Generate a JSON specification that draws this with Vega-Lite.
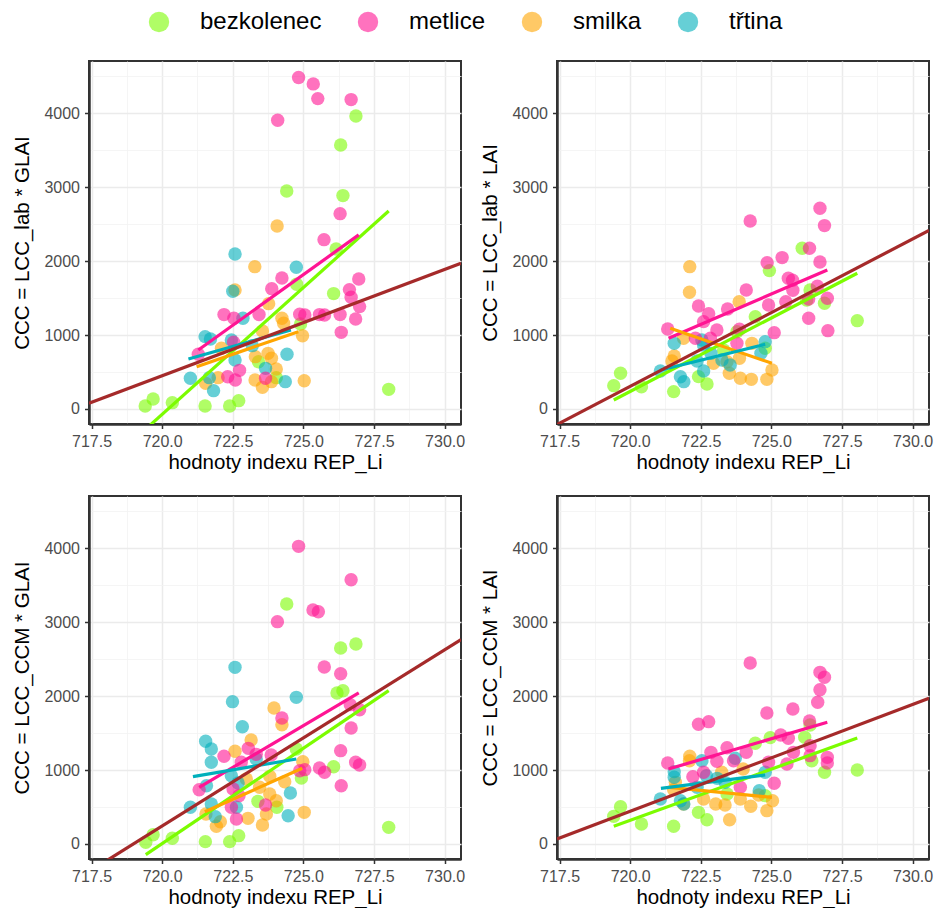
{
  "$schema": "https://vega.github.io/schema/vega-lite/v6.json",
  "padding": {"left": 11, "top": 10, "right": 5, "bottom": 5},
  "background": "white",
  "datasets": {
    "points": [
      {"panel":1,"druh":"bezkolenec","rep":726.86,"ccc":3965},{"panel":1,"druh":"bezkolenec","rep":726.32,"ccc":3572},{"panel":1,"druh":"bezkolenec","rep":724.41,"ccc":2950},{"panel":1,"druh":"bezkolenec","rep":726.40,"ccc":2887},{"panel":1,"druh":"bezkolenec","rep":726.16,"ccc":2165},{"panel":1,"druh":"bezkolenec","rep":724.76,"ccc":1687},{"panel":1,"druh":"bezkolenec","rep":726.07,"ccc":1561},{"panel":1,"druh":"bezkolenec","rep":728.02,"ccc":266},{"panel":1,"druh":"bezkolenec","rep":719.40,"ccc":41},{"panel":1,"druh":"bezkolenec","rep":719.68,"ccc":135},{"panel":1,"druh":"bezkolenec","rep":720.36,"ccc":86},{"panel":1,"druh":"bezkolenec","rep":721.52,"ccc":41},{"panel":1,"druh":"bezkolenec","rep":722.39,"ccc":41},{"panel":1,"druh":"bezkolenec","rep":722.71,"ccc":113},{"panel":1,"druh":"bezkolenec","rep":723.41,"ccc":640},{"panel":1,"druh":"bezkolenec","rep":724.04,"ccc":424},{"panel":1,"druh":"bezkolenec","rep":724.90,"ccc":1150},
      {"panel":1,"druh":"smilka","rep":724.07,"ccc":2476},{"panel":1,"druh":"smilka","rep":723.28,"ccc":1926},{"panel":1,"druh":"smilka","rep":722.58,"ccc":1610},{"panel":1,"druh":"smilka","rep":723.77,"ccc":1425},{"panel":1,"druh":"smilka","rep":724.24,"ccc":1227},{"panel":1,"druh":"smilka","rep":724.30,"ccc":1159},{"panel":1,"druh":"smilka","rep":724.97,"ccc":992},{"panel":1,"druh":"smilka","rep":723.55,"ccc":1055},{"panel":1,"druh":"smilka","rep":722.10,"ccc":821},{"panel":1,"druh":"smilka","rep":723.75,"ccc":753},{"panel":1,"druh":"smilka","rep":723.87,"ccc":686},{"panel":1,"druh":"smilka","rep":724.04,"ccc":541},{"panel":1,"druh":"smilka","rep":723.29,"ccc":392},{"panel":1,"druh":"smilka","rep":723.55,"ccc":293},{"panel":1,"druh":"smilka","rep":725.03,"ccc":383},{"panel":1,"druh":"smilka","rep":721.54,"ccc":347},{"panel":1,"druh":"smilka","rep":721.98,"ccc":424},{"panel":1,"druh":"smilka","rep":723.87,"ccc":370},{"panel":1,"druh":"smilka","rep":723.30,"ccc":708},
      {"panel":1,"druh":"třtina","rep":722.58,"ccc":2097},{"panel":1,"druh":"třtina","rep":724.75,"ccc":1917},{"panel":1,"druh":"třtina","rep":722.50,"ccc":1592},{"panel":1,"druh":"třtina","rep":722.86,"ccc":1227},{"panel":1,"druh":"třtina","rep":721.52,"ccc":979},{"panel":1,"druh":"třtina","rep":721.71,"ccc":947},{"panel":1,"druh":"třtina","rep":722.45,"ccc":934},{"panel":1,"druh":"třtina","rep":721.00,"ccc":415},{"panel":1,"druh":"třtina","rep":721.67,"ccc":424},{"panel":1,"druh":"třtina","rep":721.82,"ccc":248},{"panel":1,"druh":"třtina","rep":724.42,"ccc":740},{"panel":1,"druh":"třtina","rep":724.36,"ccc":370},{"panel":1,"druh":"třtina","rep":722.58,"ccc":663},{"panel":1,"druh":"třtina","rep":723.19,"ccc":857},{"panel":1,"druh":"třtina","rep":723.66,"ccc":550},
      {"panel":1,"druh":"metlice","rep":724.83,"ccc":4484},{"panel":1,"druh":"metlice","rep":725.35,"ccc":4398},{"panel":1,"druh":"metlice","rep":725.51,"ccc":4199},{"panel":1,"druh":"metlice","rep":726.69,"ccc":4186},{"panel":1,"druh":"metlice","rep":724.09,"ccc":3906},{"panel":1,"druh":"metlice","rep":726.30,"ccc":2643},{"panel":1,"druh":"metlice","rep":725.73,"ccc":2291},{"panel":1,"druh":"metlice","rep":724.24,"ccc":1773},{"panel":1,"druh":"metlice","rep":726.96,"ccc":1759},{"panel":1,"druh":"metlice","rep":723.88,"ccc":1628},{"panel":1,"druh":"metlice","rep":726.63,"ccc":1615},{"panel":1,"druh":"metlice","rep":726.69,"ccc":1511},{"panel":1,"druh":"metlice","rep":726.99,"ccc":1385},{"panel":1,"druh":"metlice","rep":722.19,"ccc":1277},{"panel":1,"druh":"metlice","rep":722.54,"ccc":1227},{"panel":1,"druh":"metlice","rep":723.43,"ccc":1277},{"panel":1,"druh":"metlice","rep":724.87,"ccc":1281},{"panel":1,"druh":"metlice","rep":725.05,"ccc":1272},{"panel":1,"druh":"metlice","rep":725.57,"ccc":1277},{"panel":1,"druh":"metlice","rep":725.75,"ccc":1272},{"panel":1,"druh":"metlice","rep":726.30,"ccc":1277},{"panel":1,"druh":"metlice","rep":726.85,"ccc":1218},{"panel":1,"druh":"metlice","rep":726.34,"ccc":1037},{"panel":1,"druh":"metlice","rep":721.28,"ccc":740},{"panel":1,"druh":"metlice","rep":722.53,"ccc":902},{"panel":1,"druh":"metlice","rep":722.74,"ccc":523},{"panel":1,"druh":"metlice","rep":722.32,"ccc":437},{"panel":1,"druh":"metlice","rep":722.59,"ccc":392},{"panel":1,"druh":"metlice","rep":723.66,"ccc":415},

      {"panel":2,"druh":"bezkolenec","rep":726.09,"ccc":2174},{"panel":2,"druh":"bezkolenec","rep":724.93,"ccc":1872},{"panel":2,"druh":"bezkolenec","rep":726.88,"ccc":1430},{"panel":2,"druh":"bezkolenec","rep":726.25,"ccc":1475},{"panel":2,"druh":"bezkolenec","rep":726.37,"ccc":1610},{"panel":2,"druh":"bezkolenec","rep":728.04,"ccc":1195},{"panel":2,"druh":"bezkolenec","rep":724.43,"ccc":1249},{"panel":2,"druh":"bezkolenec","rep":724.78,"ccc":821},{"panel":2,"druh":"bezkolenec","rep":723.78,"ccc":1046},{"panel":2,"druh":"bezkolenec","rep":719.66,"ccc":483},{"panel":2,"druh":"bezkolenec","rep":719.42,"ccc":316},{"panel":2,"druh":"bezkolenec","rep":720.40,"ccc":302},{"panel":2,"druh":"bezkolenec","rep":721.54,"ccc":235},{"panel":2,"druh":"bezkolenec","rep":722.42,"ccc":438},{"panel":2,"druh":"bezkolenec","rep":722.72,"ccc":338},{"panel":2,"druh":"bezkolenec","rep":723.31,"ccc":798},
      {"panel":2,"druh":"smilka","rep":722.11,"ccc":1926},{"panel":2,"druh":"smilka","rep":722.10,"ccc":1579},{"panel":2,"druh":"smilka","rep":723.86,"ccc":1452},{"panel":2,"druh":"smilka","rep":721.89,"ccc":956},{"panel":2,"druh":"smilka","rep":721.56,"ccc":717},{"panel":2,"druh":"smilka","rep":721.48,"ccc":650},{"panel":2,"druh":"smilka","rep":722.95,"ccc":618},{"panel":2,"druh":"smilka","rep":723.87,"ccc":686},{"panel":2,"druh":"smilka","rep":724.31,"ccc":888},{"panel":2,"druh":"smilka","rep":723.51,"ccc":483},{"panel":2,"druh":"smilka","rep":723.90,"ccc":415},{"panel":2,"druh":"smilka","rep":724.29,"ccc":401},{"panel":2,"druh":"smilka","rep":724.84,"ccc":401},{"panel":2,"druh":"smilka","rep":725.02,"ccc":528},{"panel":2,"druh":"smilka","rep":723.43,"ccc":640},
      {"panel":2,"druh":"třtina","rep":721.56,"ccc":888},{"panel":2,"druh":"třtina","rep":722.54,"ccc":934},{"panel":2,"druh":"třtina","rep":722.60,"ccc":866},{"panel":2,"druh":"třtina","rep":721.07,"ccc":514},{"panel":2,"druh":"třtina","rep":721.78,"ccc":437},{"panel":2,"druh":"třtina","rep":721.90,"ccc":370},{"panel":2,"druh":"třtina","rep":722.37,"ccc":650},{"panel":2,"druh":"třtina","rep":722.60,"ccc":514},{"panel":2,"druh":"třtina","rep":723.25,"ccc":663},{"panel":2,"druh":"třtina","rep":723.54,"ccc":595},{"panel":2,"druh":"třtina","rep":724.63,"ccc":753},{"panel":2,"druh":"třtina","rep":724.78,"ccc":911},{"panel":2,"druh":"třtina","rep":722.86,"ccc":753},
      {"panel":2,"druh":"metlice","rep":726.72,"ccc":2715},{"panel":2,"druh":"metlice","rep":726.88,"ccc":2481},{"panel":2,"druh":"metlice","rep":724.25,"ccc":2544},{"panel":2,"druh":"metlice","rep":726.35,"ccc":2174},{"panel":2,"druh":"metlice","rep":725.38,"ccc":2048},{"panel":2,"druh":"metlice","rep":726.72,"ccc":1989},{"panel":2,"druh":"metlice","rep":724.85,"ccc":1980},{"panel":2,"druh":"metlice","rep":725.60,"ccc":1768},{"panel":2,"druh":"metlice","rep":725.75,"ccc":1741},{"panel":2,"druh":"metlice","rep":725.76,"ccc":1606},{"panel":2,"druh":"metlice","rep":724.11,"ccc":1610},{"panel":2,"druh":"metlice","rep":726.63,"ccc":1660},{"panel":2,"druh":"metlice","rep":726.98,"ccc":1498},{"panel":2,"druh":"metlice","rep":726.32,"ccc":1489},{"panel":2,"druh":"metlice","rep":725.51,"ccc":1452},{"panel":2,"druh":"metlice","rep":724.90,"ccc":1407},{"panel":2,"druh":"metlice","rep":723.45,"ccc":1353},{"panel":2,"druh":"metlice","rep":722.42,"ccc":1394},{"panel":2,"druh":"metlice","rep":722.78,"ccc":1290},{"panel":2,"druh":"metlice","rep":722.60,"ccc":1182},{"panel":2,"druh":"metlice","rep":723.07,"ccc":1069},{"panel":2,"druh":"metlice","rep":721.33,"ccc":1083},{"panel":2,"druh":"metlice","rep":723.87,"ccc":1078},{"panel":2,"druh":"metlice","rep":725.10,"ccc":1033},{"panel":2,"druh":"metlice","rep":726.32,"ccc":1227},{"panel":2,"druh":"metlice","rep":727.00,"ccc":1060},{"panel":2,"druh":"metlice","rep":722.84,"ccc":956},{"panel":2,"druh":"metlice","rep":722.31,"ccc":956},{"panel":2,"druh":"metlice","rep":723.78,"ccc":888},

      {"panel":3,"druh":"bezkolenec","rep":724.41,"ccc":3247},{"panel":3,"druh":"bezkolenec","rep":726.86,"ccc":2706},{"panel":3,"druh":"bezkolenec","rep":726.32,"ccc":2652},{"panel":3,"druh":"bezkolenec","rep":726.19,"ccc":2043},{"panel":3,"druh":"bezkolenec","rep":726.40,"ccc":2074},{"panel":3,"druh":"bezkolenec","rep":724.75,"ccc":1285},{"panel":3,"druh":"bezkolenec","rep":726.07,"ccc":1046},{"panel":3,"druh":"bezkolenec","rep":724.93,"ccc":893},{"panel":3,"druh":"bezkolenec","rep":728.02,"ccc":225},{"panel":3,"druh":"bezkolenec","rep":719.42,"ccc":23},{"panel":3,"druh":"bezkolenec","rep":719.68,"ccc":126},{"panel":3,"druh":"bezkolenec","rep":720.36,"ccc":77},{"panel":3,"druh":"bezkolenec","rep":721.53,"ccc":32},{"panel":3,"druh":"bezkolenec","rep":722.39,"ccc":32},{"panel":3,"druh":"bezkolenec","rep":722.71,"ccc":113},{"panel":3,"druh":"bezkolenec","rep":723.39,"ccc":577},{"panel":3,"druh":"bezkolenec","rep":724.06,"ccc":496},
      {"panel":3,"druh":"smilka","rep":723.96,"ccc":1840},{"panel":3,"druh":"smilka","rep":724.24,"ccc":1614},{"panel":3,"druh":"smilka","rep":723.15,"ccc":1407},{"panel":3,"druh":"smilka","rep":722.58,"ccc":1254},{"panel":3,"druh":"smilka","rep":724.98,"ccc":1114},{"panel":3,"druh":"smilka","rep":723.81,"ccc":915},{"panel":3,"druh":"smilka","rep":724.34,"ccc":843},{"panel":3,"druh":"smilka","rep":724.04,"ccc":586},{"panel":3,"druh":"smilka","rep":723.69,"ccc":406},{"panel":3,"druh":"smilka","rep":723.04,"ccc":347},{"panel":3,"druh":"smilka","rep":723.55,"ccc":257},{"panel":3,"druh":"smilka","rep":721.92,"ccc":239},{"panel":3,"druh":"smilka","rep":722.06,"ccc":302},{"panel":3,"druh":"smilka","rep":725.03,"ccc":428},{"panel":3,"druh":"smilka","rep":721.55,"ccc":406},{"panel":3,"druh":"smilka","rep":723.45,"ccc":767},{"panel":3,"druh":"smilka","rep":723.81,"ccc":676},{"panel":3,"druh":"smilka","rep":722.98,"ccc":879},
      {"panel":3,"druh":"třtina","rep":722.58,"ccc":2390},{"panel":3,"druh":"třtina","rep":722.49,"ccc":1926},{"panel":3,"druh":"třtina","rep":724.75,"ccc":1984},{"panel":3,"druh":"třtina","rep":722.84,"ccc":1587},{"panel":3,"druh":"třtina","rep":721.54,"ccc":1389},{"panel":3,"druh":"třtina","rep":721.74,"ccc":1285},{"panel":3,"druh":"třtina","rep":721.74,"ccc":1105},{"panel":3,"druh":"třtina","rep":721.57,"ccc":789},{"panel":3,"druh":"třtina","rep":721.00,"ccc":496},{"panel":3,"druh":"třtina","rep":721.74,"ccc":541},{"panel":3,"druh":"třtina","rep":721.88,"ccc":370},{"panel":3,"druh":"třtina","rep":722.45,"ccc":924},{"panel":3,"druh":"třtina","rep":722.69,"ccc":825},{"panel":3,"druh":"třtina","rep":723.33,"ccc":1150},{"panel":3,"druh":"třtina","rep":724.54,"ccc":690},{"panel":3,"druh":"třtina","rep":724.46,"ccc":383},{"panel":3,"druh":"třtina","rep":722.63,"ccc":496},
      {"panel":3,"druh":"metlice","rep":724.83,"ccc":4027},{"panel":3,"druh":"metlice","rep":726.69,"ccc":3576},{"panel":3,"druh":"metlice","rep":725.34,"ccc":3166},{"panel":3,"druh":"metlice","rep":725.53,"ccc":3143},{"panel":3,"druh":"metlice","rep":724.08,"ccc":3008},{"panel":3,"druh":"metlice","rep":725.74,"ccc":2395},{"panel":3,"druh":"metlice","rep":726.32,"ccc":2304},{"panel":3,"druh":"metlice","rep":724.24,"ccc":1705},{"panel":3,"druh":"metlice","rep":726.66,"ccc":1885},{"panel":3,"druh":"metlice","rep":726.99,"ccc":1817},{"panel":3,"druh":"metlice","rep":726.69,"ccc":1569},{"panel":3,"druh":"metlice","rep":723.05,"ccc":1294},{"panel":3,"druh":"metlice","rep":723.33,"ccc":1213},{"panel":3,"druh":"metlice","rep":723.86,"ccc":1204},{"panel":3,"druh":"metlice","rep":722.19,"ccc":1186},{"panel":3,"druh":"metlice","rep":722.80,"ccc":1105},{"panel":3,"druh":"metlice","rep":726.32,"ccc":1263},{"panel":3,"druh":"metlice","rep":725.05,"ccc":1006},{"panel":3,"druh":"metlice","rep":725.57,"ccc":1028},{"panel":3,"druh":"metlice","rep":725.75,"ccc":970},{"panel":3,"druh":"metlice","rep":726.85,"ccc":1105},{"panel":3,"druh":"metlice","rep":726.99,"ccc":1069},{"panel":3,"druh":"metlice","rep":726.34,"ccc":789},{"panel":3,"druh":"metlice","rep":721.31,"ccc":735},{"panel":3,"druh":"metlice","rep":722.51,"ccc":744},{"panel":3,"druh":"metlice","rep":722.72,"ccc":654},{"panel":3,"druh":"metlice","rep":722.45,"ccc":496},{"panel":3,"druh":"metlice","rep":722.63,"ccc":338},{"panel":3,"druh":"metlice","rep":723.66,"ccc":528},{"panel":3,"druh":"metlice","rep":724.87,"ccc":992},

      {"panel":4,"druh":"bezkolenec","rep":724.96,"ccc":1439},{"panel":4,"druh":"bezkolenec","rep":724.43,"ccc":1362},{"panel":4,"druh":"bezkolenec","rep":726.18,"ccc":1443},{"panel":4,"druh":"bezkolenec","rep":726.37,"ccc":1610},{"panel":4,"druh":"bezkolenec","rep":726.43,"ccc":1127},{"panel":4,"druh":"bezkolenec","rep":726.88,"ccc":970},{"panel":4,"druh":"bezkolenec","rep":728.04,"ccc":1001},{"panel":4,"druh":"bezkolenec","rep":719.66,"ccc":505},{"panel":4,"druh":"bezkolenec","rep":719.42,"ccc":374},{"panel":4,"druh":"bezkolenec","rep":720.40,"ccc":271},{"panel":4,"druh":"bezkolenec","rep":721.54,"ccc":239},{"panel":4,"druh":"bezkolenec","rep":722.42,"ccc":428},{"panel":4,"druh":"bezkolenec","rep":722.72,"ccc":329},{"panel":4,"druh":"bezkolenec","rep":723.43,"ccc":676},{"panel":4,"druh":"bezkolenec","rep":724.78,"ccc":654},
      {"panel":4,"druh":"smilka","rep":722.11,"ccc":1186},{"panel":4,"druh":"smilka","rep":722.10,"ccc":1127},{"panel":4,"druh":"smilka","rep":721.60,"ccc":834},{"panel":4,"druh":"smilka","rep":721.54,"ccc":735},{"panel":4,"druh":"smilka","rep":722.60,"ccc":609},{"panel":4,"druh":"smilka","rep":723.03,"ccc":541},{"panel":4,"druh":"smilka","rep":723.36,"ccc":528},{"panel":4,"druh":"smilka","rep":723.52,"ccc":329},{"panel":4,"druh":"smilka","rep":723.90,"ccc":609},{"panel":4,"druh":"smilka","rep":724.27,"ccc":510},{"panel":4,"druh":"smilka","rep":724.84,"ccc":451},{"panel":4,"druh":"smilka","rep":725.04,"ccc":586},{"panel":4,"druh":"smilka","rep":724.55,"ccc":663},{"panel":4,"druh":"smilka","rep":723.24,"ccc":970},{"panel":4,"druh":"smilka","rep":724.00,"ccc":1015},{"panel":4,"druh":"smilka","rep":721.89,"ccc":541},
      {"panel":4,"druh":"třtina","rep":721.56,"ccc":979},{"panel":4,"druh":"třtina","rep":721.56,"ccc":902},{"panel":4,"druh":"třtina","rep":722.54,"ccc":1127},{"panel":4,"druh":"třtina","rep":723.72,"ccc":1159},{"panel":4,"druh":"třtina","rep":721.07,"ccc":609},{"panel":4,"druh":"třtina","rep":721.78,"ccc":586},{"panel":4,"druh":"třtina","rep":721.90,"ccc":541},{"panel":4,"druh":"třtina","rep":722.37,"ccc":767},{"panel":4,"druh":"třtina","rep":722.70,"ccc":924},{"panel":4,"druh":"třtina","rep":723.08,"ccc":888},{"panel":4,"druh":"třtina","rep":724.57,"ccc":722},{"panel":4,"druh":"třtina","rep":724.78,"ccc":970},{"panel":4,"druh":"třtina","rep":723.36,"ccc":834},
      {"panel":4,"druh":"metlice","rep":724.25,"ccc":2449},{"panel":4,"druh":"metlice","rep":726.72,"ccc":2322},{"panel":4,"druh":"metlice","rep":726.88,"ccc":2255},{"panel":4,"druh":"metlice","rep":726.72,"ccc":2088},{"panel":4,"druh":"metlice","rep":726.64,"ccc":1917},{"panel":4,"druh":"metlice","rep":724.84,"ccc":1772},{"panel":4,"druh":"metlice","rep":725.76,"ccc":1826},{"panel":4,"druh":"metlice","rep":726.35,"ccc":1664},{"panel":4,"druh":"metlice","rep":722.42,"ccc":1619},{"panel":4,"druh":"metlice","rep":722.78,"ccc":1655},{"panel":4,"druh":"metlice","rep":725.33,"ccc":1475},{"panel":4,"druh":"metlice","rep":725.60,"ccc":1430},{"panel":4,"druh":"metlice","rep":726.37,"ccc":1330},{"panel":4,"druh":"metlice","rep":725.78,"ccc":1240},{"panel":4,"druh":"metlice","rep":722.86,"ccc":1240},{"panel":4,"druh":"metlice","rep":723.43,"ccc":1303},{"panel":4,"druh":"metlice","rep":724.11,"ccc":1240},{"panel":4,"druh":"metlice","rep":723.66,"ccc":1127},{"panel":4,"druh":"metlice","rep":723.07,"ccc":1118},{"panel":4,"druh":"metlice","rep":721.33,"ccc":1096},{"panel":4,"druh":"metlice","rep":724.90,"ccc":1105},{"panel":4,"druh":"metlice","rep":725.55,"ccc":1082},{"panel":4,"druh":"metlice","rep":726.98,"ccc":1172},{"panel":4,"druh":"metlice","rep":726.98,"ccc":1096},{"panel":4,"druh":"metlice","rep":726.37,"ccc":1195},{"panel":4,"druh":"metlice","rep":722.22,"ccc":911},{"panel":4,"druh":"metlice","rep":722.60,"ccc":970},{"panel":4,"druh":"metlice","rep":725.10,"ccc":821},{"panel":4,"druh":"metlice","rep":723.90,"ccc":767}
    ],
    "fits": [
      {"panel":1,"druh":"bezkolenec","rep":719.40,"ccc":-278},{"panel":1,"druh":"bezkolenec","rep":728.02,"ccc":2679},
      {"panel":1,"druh":"metlice","rep":721.28,"ccc":798},{"panel":1,"druh":"metlice","rep":726.96,"ccc":2355},
      {"panel":1,"druh":"smilka","rep":721.22,"ccc":573},{"panel":1,"druh":"smilka","rep":724.82,"ccc":1046},
      {"panel":1,"druh":"třtina","rep":720.93,"ccc":677},{"panel":1,"druh":"třtina","rep":724.56,"ccc":1069},
      {"panel":1,"druh":"vše","rep":717.41,"ccc":77},{"panel":1,"druh":"vše","rep":730.58,"ccc":1972},
      {"panel":2,"druh":"bezkolenec","rep":719.42,"ccc":122},{"panel":2,"druh":"bezkolenec","rep":728.04,"ccc":1836},
      {"panel":2,"druh":"metlice","rep":721.36,"ccc":956},{"panel":2,"druh":"metlice","rep":726.98,"ccc":1881},
      {"panel":2,"druh":"smilka","rep":721.42,"ccc":1092},{"panel":2,"druh":"smilka","rep":725.02,"ccc":618},
      {"panel":2,"druh":"třtina","rep":721.09,"ccc":528},{"panel":2,"druh":"třtina","rep":724.78,"ccc":875},
      {"panel":2,"druh":"vše","rep":717.41,"ccc":-210},{"panel":2,"druh":"vše","rep":730.58,"ccc":2416},
      {"panel":3,"druh":"bezkolenec","rep":719.42,"ccc":-144},{"panel":3,"druh":"bezkolenec","rep":728.02,"ccc":2074},
      {"panel":3,"druh":"metlice","rep":721.31,"ccc":767},{"panel":3,"druh":"metlice","rep":726.96,"ccc":2043},
      {"panel":3,"druh":"smilka","rep":721.51,"ccc":437},{"panel":3,"druh":"smilka","rep":724.96,"ccc":1024},
      {"panel":3,"druh":"třtina","rep":721.09,"ccc":911},{"panel":3,"druh":"třtina","rep":724.75,"ccc":1150},
      {"panel":3,"druh":"vše","rep":717.41,"ccc":-374},{"panel":3,"druh":"vše","rep":730.58,"ccc":2766},
      {"panel":4,"druh":"bezkolenec","rep":719.42,"ccc":239},{"panel":4,"druh":"bezkolenec","rep":728.04,"ccc":1434},
      {"panel":4,"druh":"metlice","rep":721.36,"ccc":1015},{"panel":4,"druh":"metlice","rep":726.98,"ccc":1646},
      {"panel":4,"druh":"smilka","rep":721.42,"ccc":767},{"panel":4,"druh":"smilka","rep":725.02,"ccc":631},
      {"panel":4,"druh":"třtina","rep":721.09,"ccc":753},{"panel":4,"druh":"třtina","rep":724.78,"ccc":933},
      {"panel":4,"druh":"vše","rep":717.41,"ccc":69},{"panel":4,"druh":"vše","rep":730.58,"ccc":1972}
    ]
  },
  "columns": 2,
  "bounds": "flush",
  "spacing": {"row": 72, "column": 96},
  "concat": [
    {
      "width": 372, "height": 363,
      "layer": [
        {"data": {"name": "points"}, "transform": [{"filter": "datum.panel == 1"}],
         "mark": {"type": "circle", "size": 180, "opacity": 0.6},
         "encoding": {
           "x": {"field": "rep", "type": "quantitative", "scale": {"domain": [717.41, 730.58], "nice": false, "zero": false}, "axis": {"title": "hodnoty indexu REP_Li", "values": [717.5, 720, 722.5, 725, 727.5, 730], "format": ".1f"}},
           "y": {"field": "ccc", "type": "quantitative", "scale": {"domain": [-203, 4708], "nice": false, "zero": false}, "axis": {"title": "CCC = LCC_lab * GLAI", "values": [0, 1000, 2000, 3000, 4000], "format": "d"}},
           "color": {"field": "druh", "type": "nominal",
             "scale": {"domain": ["bezkolenec", "metlice", "smilka", "třtina"], "range": ["#7CFC00", "#FF1493", "#FFA500", "#00AFBB"]},
             "legend": {"title": null, "orient": "none", "legendX": 58, "legendY": -51, "direction": "horizontal", "labelFontSize": 24, "labelColor": "#000000", "symbolSize": 415, "symbolOpacity": 0.6, "symbolStrokeWidth": 0, "symbolType": "circle", "labelOffset": 29, "columnPadding": 34, "padding": 0}}
         }},
        {"data": {"name": "fits"}, "transform": [{"filter": "datum.panel == 1 && datum.druh != 'vše'"}],
         "mark": {"type": "line", "strokeWidth": 3.2, "clip": true},
         "encoding": {
           "x": {"field": "rep", "type": "quantitative", "axis": null},
           "y": {"field": "ccc", "type": "quantitative", "axis": null},
           "stroke": {"field": "druh", "type": "nominal", "scale": {"domain": ["bezkolenec", "metlice", "smilka", "třtina"], "range": ["#7CFC00", "#FF1493", "#FFA500", "#00AFBB"]}, "legend": null}
         }},
        {"data": {"name": "fits"}, "transform": [{"filter": "datum.panel == 1 && datum.druh == 'vše'"}],
         "mark": {"type": "line", "strokeWidth": 3.2, "clip": true, "color": "#A52A2A"},
         "encoding": {
           "x": {"field": "rep", "type": "quantitative", "axis": {"orient": "top", "values": [718.75, 721.25, 723.75, 726.25, 728.75], "labels": false, "ticks": false, "domain": false, "title": null, "grid": true, "gridColor": "#F2F2F2", "gridWidth": 0.8}},
           "y": {"field": "ccc", "type": "quantitative", "axis": {"orient": "right", "values": [500, 1500, 2500, 3500, 4500], "labels": false, "ticks": false, "domain": false, "title": null, "grid": true, "gridColor": "#F2F2F2", "gridWidth": 0.8}}
         }}
      ],
      "resolve": {"axis": {"x": "independent", "y": "independent"}}
    },
    {
      "width": 372, "height": 363,
      "layer": [
        {"data": {"name": "points"}, "transform": [{"filter": "datum.panel == 2"}],
         "mark": {"type": "circle", "size": 180, "opacity": 0.6},
         "encoding": {
           "x": {"field": "rep", "type": "quantitative", "scale": {"domain": [717.41, 730.58], "nice": false, "zero": false}, "axis": {"title": "hodnoty indexu REP_Li", "values": [717.5, 720, 722.5, 725, 727.5, 730], "format": ".1f"}},
           "y": {"field": "ccc", "type": "quantitative", "scale": {"domain": [-203, 4708], "nice": false, "zero": false}, "axis": {"title": "CCC = LCC_lab * LAI", "values": [0, 1000, 2000, 3000, 4000], "format": "d"}},
           "color": {"field": "druh", "type": "nominal", "scale": {"domain": ["bezkolenec", "metlice", "smilka", "třtina"], "range": ["#7CFC00", "#FF1493", "#FFA500", "#00AFBB"]}}
         }},
        {"data": {"name": "fits"}, "transform": [{"filter": "datum.panel == 2 && datum.druh != 'vše'"}],
         "mark": {"type": "line", "strokeWidth": 3.2, "clip": true},
         "encoding": {
           "x": {"field": "rep", "type": "quantitative", "axis": null},
           "y": {"field": "ccc", "type": "quantitative", "axis": null},
           "stroke": {"field": "druh", "type": "nominal", "scale": {"domain": ["bezkolenec", "metlice", "smilka", "třtina"], "range": ["#7CFC00", "#FF1493", "#FFA500", "#00AFBB"]}, "legend": null}
         }},
        {"data": {"name": "fits"}, "transform": [{"filter": "datum.panel == 2 && datum.druh == 'vše'"}],
         "mark": {"type": "line", "strokeWidth": 3.2, "clip": true, "color": "#A52A2A"},
         "encoding": {
           "x": {"field": "rep", "type": "quantitative", "axis": {"orient": "top", "values": [718.75, 721.25, 723.75, 726.25, 728.75], "labels": false, "ticks": false, "domain": false, "title": null, "grid": true, "gridColor": "#F2F2F2", "gridWidth": 0.8}},
           "y": {"field": "ccc", "type": "quantitative", "axis": {"orient": "right", "values": [500, 1500, 2500, 3500, 4500], "labels": false, "ticks": false, "domain": false, "title": null, "grid": true, "gridColor": "#F2F2F2", "gridWidth": 0.8}}
         }}
      ],
      "resolve": {"axis": {"x": "independent", "y": "independent"}}
    },
    {
      "width": 372, "height": 363,
      "layer": [
        {"data": {"name": "points"}, "transform": [{"filter": "datum.panel == 3"}],
         "mark": {"type": "circle", "size": 180, "opacity": 0.6},
         "encoding": {
           "x": {"field": "rep", "type": "quantitative", "scale": {"domain": [717.41, 730.58], "nice": false, "zero": false}, "axis": {"title": "hodnoty indexu REP_Li", "values": [717.5, 720, 722.5, 725, 727.5, 730], "format": ".1f"}},
           "y": {"field": "ccc", "type": "quantitative", "scale": {"domain": [-203, 4708], "nice": false, "zero": false}, "axis": {"title": "CCC = LCC_CCM * GLAI", "values": [0, 1000, 2000, 3000, 4000], "format": "d"}},
           "color": {"field": "druh", "type": "nominal", "scale": {"domain": ["bezkolenec", "metlice", "smilka", "třtina"], "range": ["#7CFC00", "#FF1493", "#FFA500", "#00AFBB"]}}
         }},
        {"data": {"name": "fits"}, "transform": [{"filter": "datum.panel == 3 && datum.druh != 'vše'"}],
         "mark": {"type": "line", "strokeWidth": 3.2, "clip": true},
         "encoding": {
           "x": {"field": "rep", "type": "quantitative", "axis": null},
           "y": {"field": "ccc", "type": "quantitative", "axis": null},
           "stroke": {"field": "druh", "type": "nominal", "scale": {"domain": ["bezkolenec", "metlice", "smilka", "třtina"], "range": ["#7CFC00", "#FF1493", "#FFA500", "#00AFBB"]}, "legend": null}
         }},
        {"data": {"name": "fits"}, "transform": [{"filter": "datum.panel == 3 && datum.druh == 'vše'"}],
         "mark": {"type": "line", "strokeWidth": 3.2, "clip": true, "color": "#A52A2A"},
         "encoding": {
           "x": {"field": "rep", "type": "quantitative", "axis": {"orient": "top", "values": [718.75, 721.25, 723.75, 726.25, 728.75], "labels": false, "ticks": false, "domain": false, "title": null, "grid": true, "gridColor": "#F2F2F2", "gridWidth": 0.8}},
           "y": {"field": "ccc", "type": "quantitative", "axis": {"orient": "right", "values": [500, 1500, 2500, 3500, 4500], "labels": false, "ticks": false, "domain": false, "title": null, "grid": true, "gridColor": "#F2F2F2", "gridWidth": 0.8}}
         }}
      ],
      "resolve": {"axis": {"x": "independent", "y": "independent"}}
    },
    {
      "width": 372, "height": 363,
      "layer": [
        {"data": {"name": "points"}, "transform": [{"filter": "datum.panel == 4"}],
         "mark": {"type": "circle", "size": 180, "opacity": 0.6},
         "encoding": {
           "x": {"field": "rep", "type": "quantitative", "scale": {"domain": [717.41, 730.58], "nice": false, "zero": false}, "axis": {"title": "hodnoty indexu REP_Li", "values": [717.5, 720, 722.5, 725, 727.5, 730], "format": ".1f"}},
           "y": {"field": "ccc", "type": "quantitative", "scale": {"domain": [-203, 4708], "nice": false, "zero": false}, "axis": {"title": "CCC = LCC_CCM * LAI", "values": [0, 1000, 2000, 3000, 4000], "format": "d"}},
           "color": {"field": "druh", "type": "nominal", "scale": {"domain": ["bezkolenec", "metlice", "smilka", "třtina"], "range": ["#7CFC00", "#FF1493", "#FFA500", "#00AFBB"]}}
         }},
        {"data": {"name": "fits"}, "transform": [{"filter": "datum.panel == 4 && datum.druh != 'vše'"}],
         "mark": {"type": "line", "strokeWidth": 3.2, "clip": true},
         "encoding": {
           "x": {"field": "rep", "type": "quantitative", "axis": null},
           "y": {"field": "ccc", "type": "quantitative", "axis": null},
           "stroke": {"field": "druh", "type": "nominal", "scale": {"domain": ["bezkolenec", "metlice", "smilka", "třtina"], "range": ["#7CFC00", "#FF1493", "#FFA500", "#00AFBB"]}, "legend": null}
         }},
        {"data": {"name": "fits"}, "transform": [{"filter": "datum.panel == 4 && datum.druh == 'vše'"}],
         "mark": {"type": "line", "strokeWidth": 3.2, "clip": true, "color": "#A52A2A"},
         "encoding": {
           "x": {"field": "rep", "type": "quantitative", "axis": {"orient": "top", "values": [718.75, 721.25, 723.75, 726.25, 728.75], "labels": false, "ticks": false, "domain": false, "title": null, "grid": true, "gridColor": "#F2F2F2", "gridWidth": 0.8}},
           "y": {"field": "ccc", "type": "quantitative", "axis": {"orient": "right", "values": [500, 1500, 2500, 3500, 4500], "labels": false, "ticks": false, "domain": false, "title": null, "grid": true, "gridColor": "#F2F2F2", "gridWidth": 0.8}}
         }}
      ],
      "resolve": {"axis": {"x": "independent", "y": "independent"}}
    }
  ],
  "config": {
    "font": "Liberation Sans",
    "view": {"stroke": "#333333", "strokeWidth": 2},
    "axis": {
      "labelFont": "Liberation Sans", "labelFontSize": 16, "labelColor": "#4D4D4D", "labelPadding": 5,
      "titleFont": "Liberation Sans", "titleFontSize": 20.5, "titleColor": "#000000", "titleFontWeight": "normal",
      "tickColor": "#333333", "tickSize": 4.5, "tickWidth": 1.5,
      "domainColor": "#333333", "domainWidth": 2.5,
      "grid": true, "gridColor": "#EBEBEB", "gridWidth": 1.5
    },
    "axisX": {"titlePadding": 3},
    "axisY": {"titlePadding": 11},
    "legend": {"labelFont": "Liberation Sans"}
  }
}
